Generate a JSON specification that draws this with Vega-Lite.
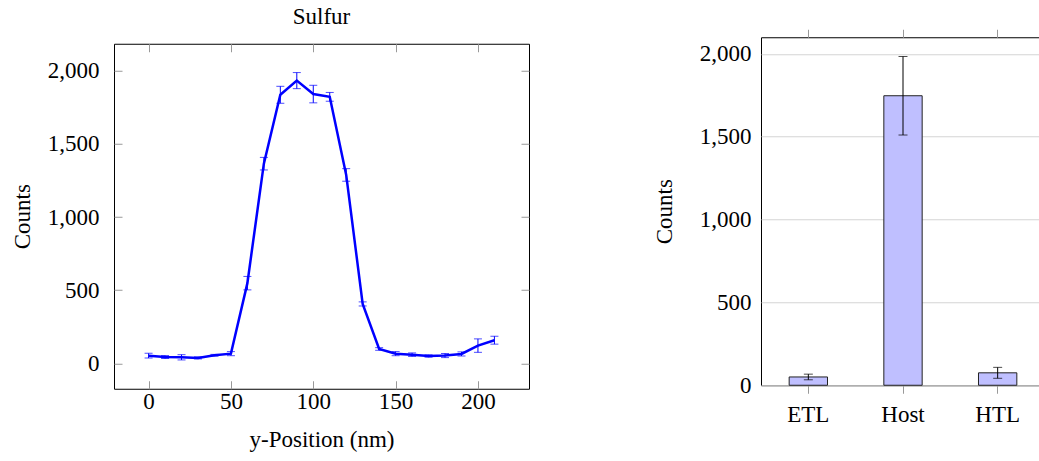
{
  "$schema": "https://vega.github.io/schema/vega-lite/v6.json",
  "background": "white",
  "padding": {"left": 10, "top": 5, "right": 0, "bottom": 0},
  "config": {
    "font": "Liberation Serif",
    "title": {"font": "Liberation Serif", "fontSize": 23, "fontWeight": "normal", "color": "black"},
    "view": {"stroke": "black", "strokeWidth": 1},
    "axis": {
      "labelFont": "Liberation Serif",
      "titleFont": "Liberation Serif",
      "labelFontSize": 23,
      "titleFontSize": 23,
      "titleFontWeight": "normal",
      "labelColor": "black",
      "titleColor": "black",
      "domain": false,
      "tickColor": "#999999",
      "tickWidth": 1
    }
  },
  "datasets": {
    "profile": [
      {"pos": 0, "counts": 52, "err": 16},
      {"pos": 10, "counts": 43, "err": 10},
      {"pos": 20, "counts": 41, "err": 18},
      {"pos": 30, "counts": 37, "err": 7},
      {"pos": 40, "counts": 55, "err": 6},
      {"pos": 50, "counts": 66, "err": 14},
      {"pos": 60, "counts": 548, "err": 46},
      {"pos": 70, "counts": 1365, "err": 43},
      {"pos": 80, "counts": 1836, "err": 58},
      {"pos": 90, "counts": 1933, "err": 55},
      {"pos": 100, "counts": 1841, "err": 60},
      {"pos": 110, "counts": 1822, "err": 30},
      {"pos": 120, "counts": 1288, "err": 43},
      {"pos": 130, "counts": 406, "err": 14},
      {"pos": 140, "counts": 98, "err": 9},
      {"pos": 150, "counts": 66, "err": 14},
      {"pos": 160, "counts": 59, "err": 12},
      {"pos": 170, "counts": 50, "err": 8},
      {"pos": 180, "counts": 53, "err": 14},
      {"pos": 190, "counts": 64, "err": 14},
      {"pos": 200, "counts": 121, "err": 46},
      {"pos": 210, "counts": 158, "err": 27}
    ],
    "regions": [
      {"region": "ETL", "counts": 50, "err": 17},
      {"region": "Host", "counts": 1747, "err": 237},
      {"region": "HTL", "counts": 75, "err": 33}
    ]
  },
  "center": true,
  "spacing": 122,
  "hconcat": [
    {
      "title": {"text": "Sulfur", "font": "Liberation Serif", "offset": 14},
      "width": 415,
      "height": 345,
      "data": {"name": "profile"},
      "layer": [
        {
          "mark": {"type": "errorbar", "color": "#0000ff", "thickness": 1, "ticks": {"size": 8, "thickness": 1}},
          "encoding": {
            "x": {
              "field": "pos", "type": "quantitative",
              "scale": {"domain": [-21, 231], "nice": false, "zero": false},
              "axis": {"orient": "bottom", "title": "y-Position (nm)", "values": [0, 50, 100, 150, 200], "tickSize": -8, "labelPadding": 10, "titlePadding": 15, "grid": false}
            },
            "y": {
              "field": "counts", "type": "quantitative",
              "scale": {"domain": [-174, 2185], "nice": false, "zero": false},
              "axis": {"orient": "left", "title": "Counts", "values": [0, 500, 1000, 1500, 2000], "format": ",d", "tickSize": -8, "labelPadding": 23, "titlePadding": 13, "grid": false}
            },
            "yError": {"field": "err"}
          }
        },
        {
          "mark": {"type": "line", "color": "#0000ff", "strokeWidth": 2.5},
          "encoding": {
            "x": {"field": "pos", "type": "quantitative", "axis": {"orient": "top", "title": null, "labels": false, "values": [0, 50, 100, 150, 200], "tickSize": -8, "grid": false}},
            "y": {"field": "counts", "type": "quantitative", "axis": {"orient": "right", "title": null, "labels": false, "values": [0, 500, 1000, 1500, 2000], "tickSize": -8, "grid": false}}
          }
        }
      ],
      "resolve": {"axis": {"x": "independent", "y": "independent"}}
    },
    {
      "width": 284,
      "height": 348,
      "data": {"name": "regions"},
      "layer": [
        {
          "mark": {"type": "bar", "fill": "#bfbfff", "stroke": "#222222", "strokeWidth": 1},
          "encoding": {
            "x": {
              "field": "region", "type": "nominal", "sort": null,
              "scale": {"paddingInner": 0.595, "paddingOuter": 0.2975},
              "axis": {"orient": "bottom", "title": null, "labelAngle": 0, "tickSize": 8, "labelPadding": 10, "minExtent": 73, "grid": false}
            },
            "y": {
              "field": "counts", "type": "quantitative", "title": "Counts",
              "scale": {"domain": [0, 2100], "nice": false},
              "axis": {"orient": "left", "title": "Counts", "values": [0, 500, 1000, 1500, 2000], "format": ",d", "tickSize": 0, "labelPadding": 10, "titlePadding": 23, "grid": true, "gridColor": "#d4d4d4", "gridWidth": 1}
            }
          }
        },
        {
          "mark": {"type": "errorbar", "color": "black", "thickness": 1, "ticks": {"size": 9, "thickness": 1}},
          "encoding": {
            "x": {"field": "region", "type": "nominal", "sort": null, "axis": {"orient": "top", "title": null, "labels": false, "tickSize": 8, "grid": false}},
            "y": {"field": "counts", "type": "quantitative", "title": "Counts"},
            "yError": {"field": "err"}
          }
        }
      ],
      "resolve": {"axis": {"x": "independent"}}
    }
  ]
}
